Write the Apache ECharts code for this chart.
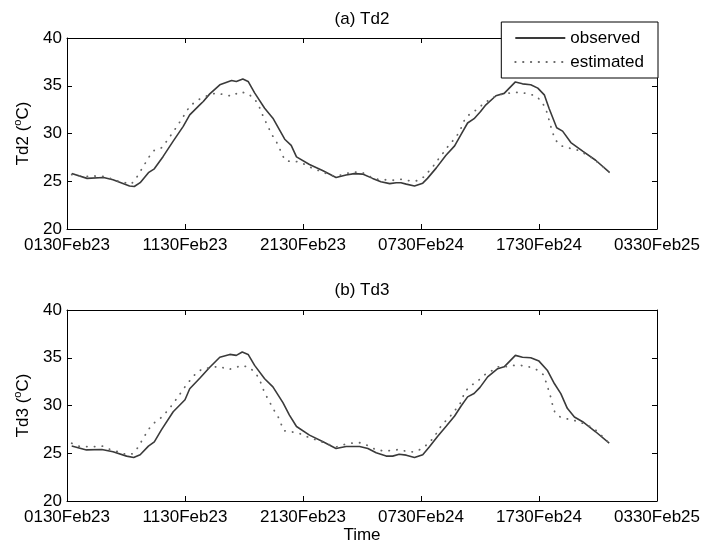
<!DOCTYPE html>
<html>
<head>
<meta charset="utf-8">
<script src="https://cdn.jsdelivr.net/npm/echarts@6/dist/echarts.min.js"></script>
<style>html,body{margin:0;padding:0;background:#fff}#c{width:703px;height:549px}</style>
</head>
<body>
<div id="c"></div>
<script>
// tick labels on the time axis (hours after 0130Feb23, every 10 h)
const xTickLabels = ['0130Feb23','1130Feb23','2130Feb23','0730Feb24','1730Feb24','0330Feb25'];
const panelTitles = ['(a) Td2', '(b) Td3'];
const seriesNames = ['observed', 'estimated'];

// [hours since 0130Feb23, temperature °C]
const td2Observed = [[0.4,25.8],[1.7,25.3],[3.1,25.4],[3.9,25.15],[5.3,24.5],[5.7,24.45],[6.2,24.85],[6.9,25.9],[7.4,26.3],[8.15,27.6],[9.0,29.2],[9.85,30.75],[10.4,31.95],[11.25,33.0],[11.55,33.35],[12.1,34.15],[12.95,35.1],[13.95,35.55],[14.35,35.45],[14.9,35.7],[15.35,35.45],[15.9,34.25],[16.75,32.65],[17.45,31.6],[18.45,29.4],[19.0,28.75],[19.45,27.55],[20.55,26.75],[21.7,26.1],[22.8,25.4],[23.65,25.65],[24.35,25.8],[25.05,25.75],[25.9,25.3],[26.6,24.95],[27.35,24.75],[27.9,24.85],[28.3,24.85],[28.75,24.7],[29.45,24.5],[30.15,24.8],[30.55,25.3],[31.3,26.4],[32.1,27.7],[32.85,28.7],[33.4,29.9],[33.95,31.1],[34.5,31.55],[35.05,32.3],[35.5,33.0],[36.35,33.95],[37.05,34.2],[38.0,35.4],[38.6,35.2],[39.3,35.1],[39.9,34.75],[40.45,34.05],[40.85,32.65],[41.5,30.6],[42.0,30.25],[42.7,29.05],[43.7,28.15],[44.8,27.2],[45.95,25.95]];
const td2Estimated = [[0.4,25.7],[1.4,25.5],[2.35,25.55],[3.05,25.5],[3.65,25.3],[4.35,25.0],[5.45,24.7],[5.9,25.4],[6.3,26.2],[6.95,27.55],[7.4,28.25],[8.0,28.5],[8.45,29.2],[9.3,30.7],[10.0,32.05],[10.4,32.85],[10.9,33.35],[11.5,33.8],[12.65,34.25],[13.35,34.05],[14.0,33.9],[14.6,34.35],[15.2,34.25],[15.75,33.8],[16.2,33.1],[16.45,32.3],[16.75,31.45],[17.05,30.7],[17.3,30.0],[17.7,29.25],[18.0,28.5],[18.25,27.7],[18.6,27.1],[19.3,27.1],[19.85,26.95],[20.55,26.5],[22.5,25.55],[23.25,25.65],[23.8,25.85],[24.5,25.95],[25.05,25.9],[25.65,25.5],[26.35,25.2],[27.05,25.15],[27.6,25.1],[28.3,25.2],[29.0,25.05],[29.7,25.05],[30.3,25.5],[30.7,26.1],[31.15,26.75],[31.55,27.45],[32.0,28.15],[32.4,28.85],[32.85,29.45],[33.25,30.15],[33.75,31.6],[34.25,32.15],[34.8,32.55],[35.35,33.2],[36.05,33.7],[36.5,34.05],[37.15,34.15],[37.75,34.3],[38.45,34.3],[39.15,34.15],[39.8,33.9],[40.3,33.2],[40.6,32.5],[40.8,31.65],[40.95,30.95],[41.15,30.15],[41.35,29.4],[41.8,28.75],[42.4,28.5],[43.1,28.35],[43.85,27.9],[44.5,27.45],[45.35,26.6],[45.95,25.95]];
const td3Observed = [[0.4,25.75],[1.65,25.35],[2.95,25.4],[3.9,25.15],[5.05,24.7],[5.65,24.55],[6.2,24.85],[6.9,25.75],[7.4,26.2],[8.0,27.45],[9.0,29.35],[10.0,30.6],[10.4,31.75],[11.25,32.85],[12.1,34.0],[12.95,35.05],[13.8,35.35],[14.35,35.25],[14.85,35.6],[15.35,35.35],[15.9,34.2],[16.75,32.8],[17.45,31.95],[18.3,30.3],[18.85,29.0],[19.45,27.8],[20.55,26.9],[21.7,26.2],[22.8,25.5],[23.65,25.7],[24.8,25.7],[25.5,25.5],[26.2,25.05],[27.05,24.7],[27.6,24.7],[28.15,24.9],[28.75,24.8],[29.45,24.55],[30.15,24.85],[30.7,25.65],[31.4,26.75],[32.15,27.85],[32.85,28.9],[33.4,29.95],[33.95,30.9],[34.5,31.25],[35.0,31.9],[35.65,33.0],[36.5,33.85],[37.05,34.05],[38.0,35.25],[38.6,35.05],[39.3,35.0],[40.0,34.65],[40.7,33.7],[41.3,32.3],[41.85,31.25],[42.4,29.7],[43.0,28.8],[43.7,28.3],[44.8,27.25],[45.95,26.05]];
const td3Estimated = [[0.4,26.05],[1.1,25.7],[2.35,25.7],[3.05,25.75],[3.65,25.4],[4.35,25.15],[5.05,24.85],[5.55,24.95],[6.05,25.65],[6.4,26.45],[6.75,27.15],[7.1,27.85],[7.55,28.35],[8.0,28.75],[8.55,29.5],[9.0,30.2],[9.4,30.9],[9.8,31.6],[10.2,32.3],[10.55,32.8],[10.95,33.4],[11.5,33.85],[12.1,33.95],[12.95,34.1],[13.65,33.75],[14.2,33.95],[14.85,34.2],[15.5,33.95],[16.0,33.35],[16.35,32.65],[16.55,31.9],[16.85,31.1],[17.2,30.3],[17.5,29.6],[17.9,28.8],[18.15,28.05],[18.4,27.35],[19.0,27.25],[19.65,27.1],[20.3,26.75],[21.0,26.45],[22.8,25.65],[23.6,25.95],[24.35,26.1],[24.95,26.1],[25.6,25.75],[26.2,25.35],[26.9,25.25],[27.6,25.3],[28.15,25.4],[28.9,25.15],[29.5,25.15],[30.1,25.5],[30.65,26.05],[31.15,26.75],[31.5,27.5],[31.9,28.15],[32.4,28.75],[32.85,29.45],[33.3,30.15],[33.75,31.5],[34.25,32.1],[34.8,32.55],[35.3,33.15],[35.95,33.6],[36.5,34.05],[37.15,34.05],[37.75,34.2],[38.45,34.2],[39.15,34.05],[39.8,33.75],[40.35,33.25],[40.6,32.45],[40.8,31.65],[41.0,30.85],[41.15,30.05],[41.35,29.25],[41.85,28.75],[42.55,28.55],[43.25,28.35],[43.9,28.05],[44.65,27.6],[45.35,26.8],[45.95,26.05]];

const FONT = 'Liberation Sans, Arial, Helvetica, sans-serif';
const FS = 17;
const AX = {color:'#000', width:1};

function xAxes(gi, showName) {
  return [
    {type:'value', gridIndex:gi, min:0, max:50, interval:10, position:'bottom',
     axisLine:{show:true, onZero:false, lineStyle:AX},
     axisTick:{show:true, inside:true, length:5, lineStyle:AX},
     splitLine:{show:false},
     axisLabel:{show:true, margin:8, color:'#000', fontFamily:FONT, fontSize:FS,
       formatter:v => xTickLabels[Math.round(v/10)]},
     name: showName ? 'Time' : '', nameLocation:'middle', nameGap:22,
     nameTextStyle:{color:'#000', fontFamily:FONT, fontSize:FS}},
    {type:'value', gridIndex:gi, min:0, max:50, interval:10, position:'top',
     axisLine:{show:true, onZero:false, lineStyle:AX},
     axisTick:{show:true, inside:true, length:5, lineStyle:AX},
     splitLine:{show:false}, axisLabel:{show:false}}
  ];
}
function yAxes(gi, label) {
  return [
    {type:'value', gridIndex:gi, min:20, max:40, interval:5, position:'left',
     axisLine:{show:true, onZero:false, lineStyle:AX},
     axisTick:{show:true, inside:true, length:5, lineStyle:AX},
     splitLine:{show:false},
     axisLabel:{show:true, margin:5, color:'#000', fontFamily:FONT, fontSize:FS},
     name: label + ' ({sup|o}C)', nameLocation:'middle', nameGap:33,
     nameTextStyle:{color:'#000', fontFamily:FONT, fontSize:FS,
       rich:{sup:{fontSize:11, fontFamily:FONT, color:'#000', verticalAlign:'top', padding:[0,0,11,0]}}}},
    {type:'value', gridIndex:gi, min:20, max:40, interval:5, position:'right',
     axisLine:{show:true, onZero:false, lineStyle:AX},
     axisTick:{show:true, inside:true, length:5, lineStyle:AX},
     splitLine:{show:false}, axisLabel:{show:false}}
  ];
}

const obsStyle = {color:'#3a3a3a', width:1.6, type:'solid'};
const estStyle = {color:'#666', width:1.8, type:[0.3,7.5], cap:'round'};
function line(name, data, xi, yi, style) {
  return {type:'line', name:name, data:data, xAxisIndex:xi, yAxisIndex:yi,
    showSymbol:false, symbol:'none', smooth:false, lineStyle:style,
    itemStyle:{color:style.color}, animation:false, silent:true};
}

const chart = echarts.init(document.getElementById('c'), null, {renderer:'canvas'});
chart.setOption({
  backgroundColor:'#fff',
  animation:false,
  title:[
    {text:panelTitles[0], left:362, top:11, textAlign:'center', padding:0,
     textStyle:{color:'#000', fontFamily:FONT, fontSize:FS, fontWeight:'normal'}},
    {text:panelTitles[1], left:362, top:282, textAlign:'center', padding:0,
     textStyle:{color:'#000', fontFamily:FONT, fontSize:FS, fontWeight:'normal'}}
  ],
  legend:{
    data:seriesNames,
    orient:'vertical', right:45, top:22,
    padding:[6,14,6,13], itemGap:4, itemWidth:50, itemHeight:20, itemTextGap:10,
    backgroundColor:'#fff', borderColor:'#000', borderWidth:1,
    itemStyle:{opacity:0, borderWidth:0},
    textStyle:{color:'#000', fontFamily:FONT, fontSize:FS, lineHeight:20},
    selectedMode:false
  },
  grid:[
    {left:67, top:38, width:591, height:191},
    {left:67, top:310, width:591, height:191}
  ],
  xAxis:[...xAxes(0,false), ...xAxes(1,true)],
  yAxis:[...yAxes(0,'Td2'), ...yAxes(1,'Td3')],
  series:[
    line(seriesNames[0], td2Observed, 0, 0, obsStyle),
    line(seriesNames[1], td2Estimated, 0, 0, estStyle),
    line(seriesNames[0], td3Observed, 2, 2, obsStyle),
    line(seriesNames[1], td3Estimated, 2, 2, estStyle)
  ]
});
</script>
</body>
</html>
